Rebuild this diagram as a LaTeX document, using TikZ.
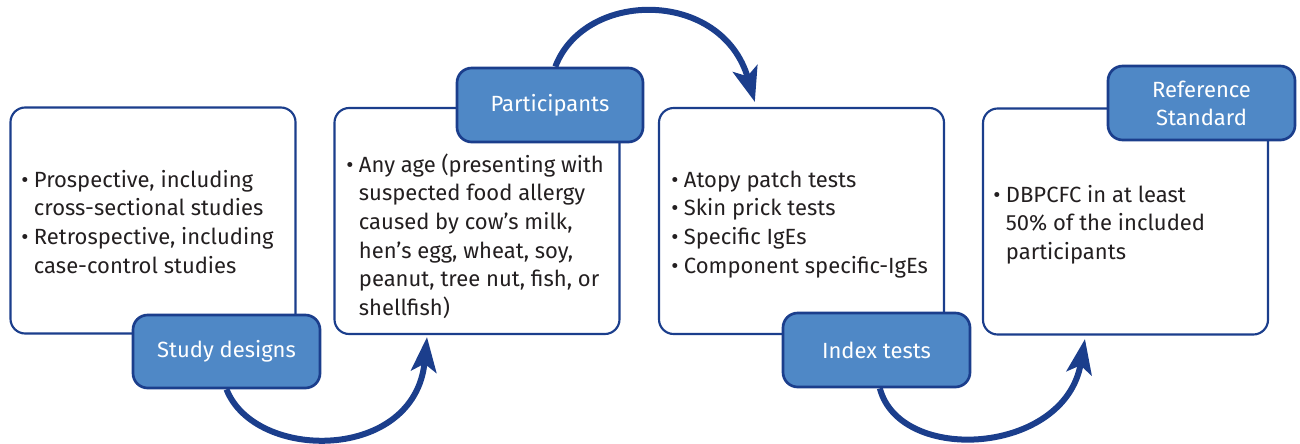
\documentclass[tikz,border=0pt]{standalone}
\usepackage{fontspec}
\setmainfont{Fira Sans}
\usetikzlibrary{arrows.meta,backgrounds}
\definecolor{navy}{HTML}{1B3E8C}
\definecolor{labelblue}{HTML}{4F88C6}
\definecolor{txtgray}{HTML}{231F20}
\newcommand\bul{\makebox[9.5pt][l]{•}}
\newcommand\ind{\hspace*{9.5pt}}
\begin{document}
\begin{tikzpicture}[x=0.75pt,y=-0.75pt,
  box/.style={draw=navy, line width=1.6pt, rounded corners=11pt, fill=white,
    minimum width=213.75pt, minimum height=169.5pt, inner sep=0pt},
  tag/.style={draw=navy, line width=2pt, rounded corners=11pt, fill=labelblue,
    text=white, inner sep=0pt, align=center, font=\fontsize{16.5}{21}\selectfont,
    minimum width=140.25pt, minimum height=55.5pt},
  txt/.style={inner sep=0pt, anchor=base west, text=txtgray,
    font=\fontsize{16.5}{21.5}\selectfont},
  flow/.style={draw=navy, line width=4.5pt,
    -{Stealth[length=26pt, width=19pt, inset=6pt]}}
]
\useasboundingbox (0,0) rectangle (1300,443);

% content boxes
\node[box] (b1) at (153,220.5) {};
\node[box] (b2) at (477,221) {};
\node[box] (b3) at (801.5,221) {};
\node[box] (b4) at (1125.5,221.5) {};

% box texts
\node[txt] (t1) at (21,187) {\parbox[t]{260pt}{\raggedright
  \bul Prospective, including\\
  \ind cross-sectional studies\\
  \bul Retrospective, including\\
  \ind case-control studies}};
\node[txt] (t2) at (346,172) {\parbox[t]{260pt}{\raggedright
  \bul Any age (presenting with\\
  \ind suspected food allergy\\
  \ind caused by cow’s milk,\\
  \ind hen’s egg, wheat, soy,\\
  \ind peanut, tree nut, fish, or\\
  \ind shellfish)}};
\node[txt] (t3) at (671,187) {\parbox[t]{260pt}{\raggedright
  \bul Atopy patch tests\\
  \bul Skin prick tests\\
  \bul Specific IgEs\\
  \bul Component specific-IgEs}};
\node[txt] (t4) at (993,202) {\parbox[t]{260pt}{\raggedright
  \bul DBPCFC in at least\\
  \ind 50\% of the included\\
  \ind participants}};

% tags
\node[tag, minimum height=54.75pt] (L1) at (226.5,351.5) {Study designs};
\node[tag, minimum width=139.5pt] (L2) at (550,105) {Participants};
\node[tag] (L3) at (876.5,350) {Index tests};
\node[tag] (L4) at (1201.5,103) {Reference\\Standard};

% connectors
\begin{scope}[on background layer]
\draw[flow] (L1.south) .. controls (255,462) and (415,462) .. ([xshift=-37.5pt,yshift=-1.5pt]b2.south);
\draw[flow] ([xshift=4pt]L2.north) .. controls (585,-11) and (722,-11) .. ([xshift=-35pt,yshift=3.75pt]b3.north);
\draw[flow] ([xshift=2.5pt]L3.south) .. controls (900,465) and (1065,455) .. ([xshift=-30.4pt,yshift=-2.6pt]b4.south);
\end{scope}
\end{tikzpicture}
\end{document}
